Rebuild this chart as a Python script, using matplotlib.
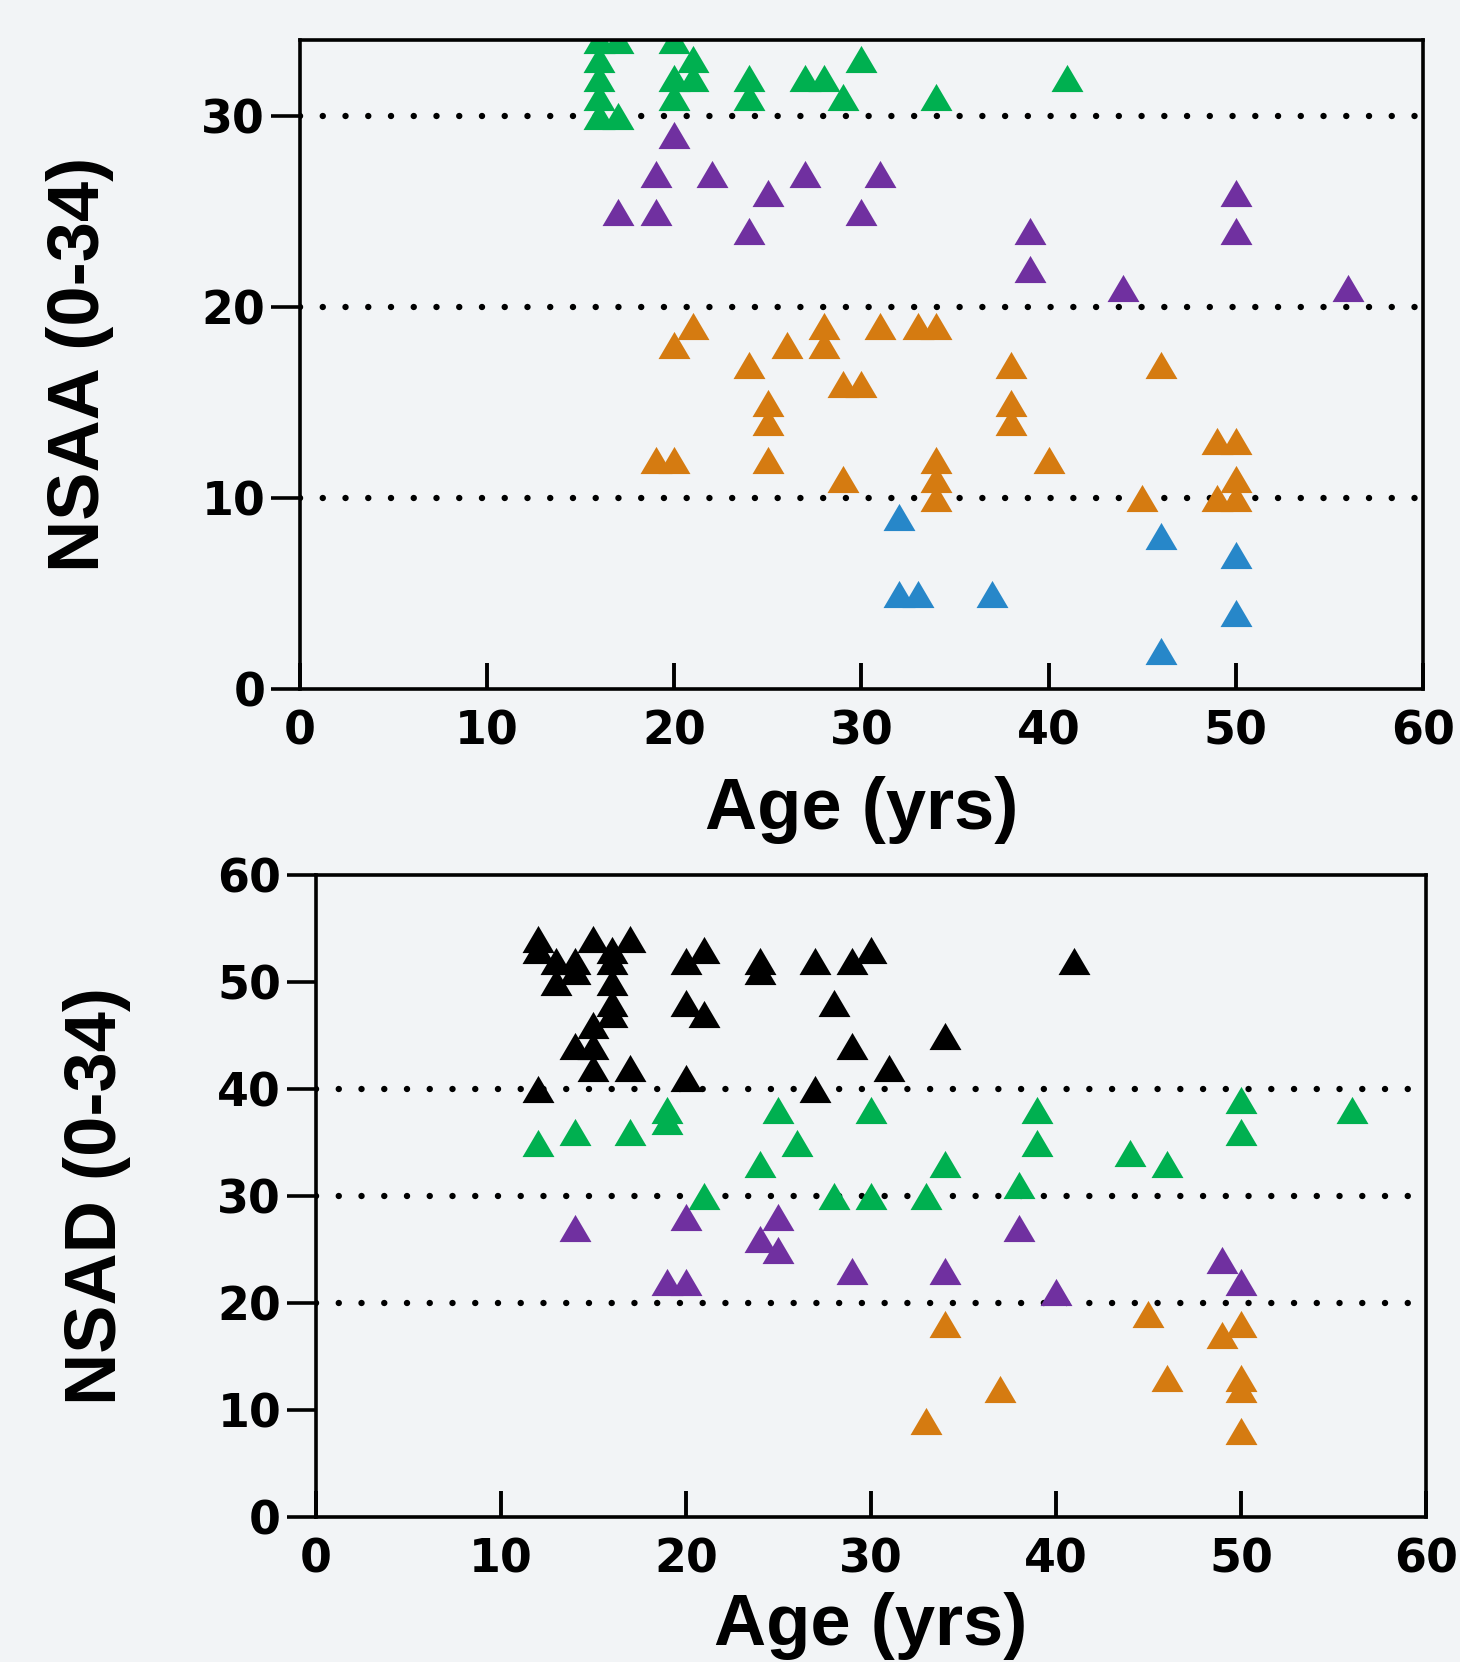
import numpy as np
import matplotlib
matplotlib.use('Agg')
import matplotlib.pyplot as plt
from matplotlib import font_manager as fm
from matplotlib.path import Path

# ---- data ----
# top panel: NSAA vs age
top_green_age = [16, 16, 16, 16, 16, 17, 17, 20, 20, 20, 21, 21, 24, 24, 27, 28, 29, 30, 34, 41]
top_green_nsaa = [30, 31, 32, 33, 34, 34, 30, 34, 32, 31, 33, 32, 32, 31, 32, 32, 31, 33, 31, 32]

top_purple_age = [17, 19, 19, 20, 22, 24, 25, 27, 30, 31, 39, 39, 44, 50, 50, 56]
top_purple_nsaa = [25, 27, 25, 29, 27, 24, 26, 27, 25, 27, 24, 22, 21, 26, 24, 21]

top_orange_age = [19, 20, 20, 21, 24, 25, 25, 25, 26, 28, 28, 29, 29, 30, 31, 33,
                  34, 34, 34, 34, 38, 38, 38, 40, 45, 46, 49, 49, 50, 50, 50]
top_orange_nsaa = [12, 12, 18, 19, 17, 15, 14, 12, 18, 19, 18, 16, 11, 16, 19, 19,
                   19, 12, 11, 10, 17, 15, 14, 12, 10, 17, 13, 10, 13, 11, 10]

top_blue_age = [32, 32, 33, 37, 46, 46, 50, 50]
top_blue_nsaa = [9, 5, 5, 5, 8, 2, 7, 4]

# bottom panel: NSAD vs age
bot_black_age = [12, 12, 12, 13, 13, 14, 14, 14, 15, 15, 15, 15, 16, 16, 16, 16, 16, 17,
                 17, 20, 20, 20, 21, 21, 24, 24, 27, 27, 28, 29, 29, 30, 31, 34, 41]
bot_black_nsad = [54, 53, 40, 52, 50, 52, 51, 44, 54, 46, 44, 42, 53, 52, 50, 48, 47, 54,
                  42, 52, 48, 41, 53, 47, 52, 51, 52, 40, 48, 52, 44, 53, 42, 45, 52]

bot_green_age = [12, 14, 17, 19, 19, 21, 24, 25, 26, 28, 30, 30, 33, 34, 38, 39, 39, 44, 46, 50, 50, 56]
bot_green_nsad = [35, 36, 36, 38, 37, 30, 33, 38, 35, 30, 38, 30, 30, 33, 31, 38, 35, 34, 33, 39, 36, 38]

bot_purple_age = [14, 19, 20, 20, 24, 25, 25, 29, 34, 38, 40, 49, 50]
bot_purple_nsad = [27, 22, 28, 22, 26, 28, 25, 23, 23, 27, 21, 24, 22]

bot_orange_age = [33, 34, 37, 45, 46, 49, 50, 50, 50, 50]
bot_orange_nsad = [9, 18, 12, 19, 13, 17, 18, 13, 12, 8]

x_ticks = [0, 10, 20, 30, 40, 50, 60]
top_yticks = [0, 10, 20, 30]
bot_yticks = [0, 10, 20, 30, 40, 50, 60]
top_grid = [10, 20, 30]
bot_grid = [20, 30, 40]

GREEN = '#00B050'
PURPLE = '#7030A0'
ORANGE = '#D57B11'
BLUE = '#2787C9'
BLACK = '#000000'
BG = '#F2F4F6'

# condensed font for the y titles if one is around
names = {f.name for f in fm.fontManager.ttflist}
if 'Liberation Sans Narrow' in names:
    ylab_font, ylab_size = 'Liberation Sans Narrow', 60
else:
    ylab_font, ylab_size = 'Liberation Sans', 52

plt.rcParams['font.family'] = ['DejaVu Sans']

# flattened triangle, a bit wider than tall
tri = Path([(0, 0.85), (-1, -0.85), (1, -0.85), (0, 0.85)],
           [Path.MOVETO, Path.LINETO, Path.LINETO, Path.CLOSEPOLY])

fig = plt.figure(figsize=(14.6, 16.62), dpi=100)
fig.patch.set_facecolor(BG)

ax1 = fig.add_axes([0.2055, 0.5854, 0.769, 0.3905])
ax2 = fig.add_axes([0.2164, 0.0872, 0.7603, 0.3863])


def style_axes(ax, yticks, ylim, grid):
    ax.set_facecolor(BG)
    for y in grid:
        ax.axhline(y, color='black', lw=4.6, linestyle=(0, (0.01, 3.55)),
                   dash_capstyle='round', zorder=1)
    ax.set_xlim(0, 60)
    ax.set_ylim(*ylim)
    ax.set_xticks(x_ticks)
    ax.set_yticks(yticks)
    for s in ax.spines.values():
        s.set_linewidth(2.6)
        s.set_zorder(5)
    ax.tick_params(axis='y', direction='out', length=21, width=2.6, pad=4,
                   labelsize=33)
    ax.tick_params(axis='x', direction='in', length=19, width=2.8, pad=15,
                   labelsize=33)
    for lab in ax.get_xticklabels() + ax.get_yticklabels():
        lab.set_fontweight('bold')


def tri_plot(ax, x, y, c):
    ax.plot(x, y, linestyle='none', marker=tri, markersize=23,
            markerfacecolor=c, markeredgewidth=0, zorder=3)


style_axes(ax1, top_yticks, (0, 34), top_grid)
tri_plot(ax1, top_green_age, top_green_nsaa, GREEN)
tri_plot(ax1, top_purple_age, top_purple_nsaa, PURPLE)
tri_plot(ax1, top_orange_age, top_orange_nsaa, ORANGE)
tri_plot(ax1, top_blue_age, top_blue_nsaa, BLUE)

style_axes(ax2, bot_yticks, (0, 60), bot_grid)
tri_plot(ax2, bot_black_age, bot_black_nsad, BLACK)
tri_plot(ax2, bot_green_age, bot_green_nsad, GREEN)
tri_plot(ax2, bot_purple_age, bot_purple_nsad, PURPLE)
tri_plot(ax2, bot_orange_age, bot_orange_nsad, ORANGE)

# axis titles
fig.text(80 / 1460, 1 - 364 / 1662, 'NSAA (0-34)', rotation=90, ha='center', va='center',
         family=ylab_font, fontweight='bold', fontsize=ylab_size)
fig.text(97 / 1460, 1 - 1196 / 1662, 'NSAD (0-34)', rotation=90, ha='center', va='center',
         family=ylab_font, fontweight='bold', fontsize=ylab_size)
fig.text(862 / 1460, 1 - 810 / 1662, 'Age (yrs)', ha='center', va='center',
         family='Liberation Sans', fontweight='bold', fontsize=52)
fig.text(871 / 1460, 1 - 1626 / 1662, 'Age (yrs)', ha='center', va='center',
         family='Liberation Sans', fontweight='bold', fontsize=52)

fig.savefig('out.png', dpi=100, facecolor=BG)
